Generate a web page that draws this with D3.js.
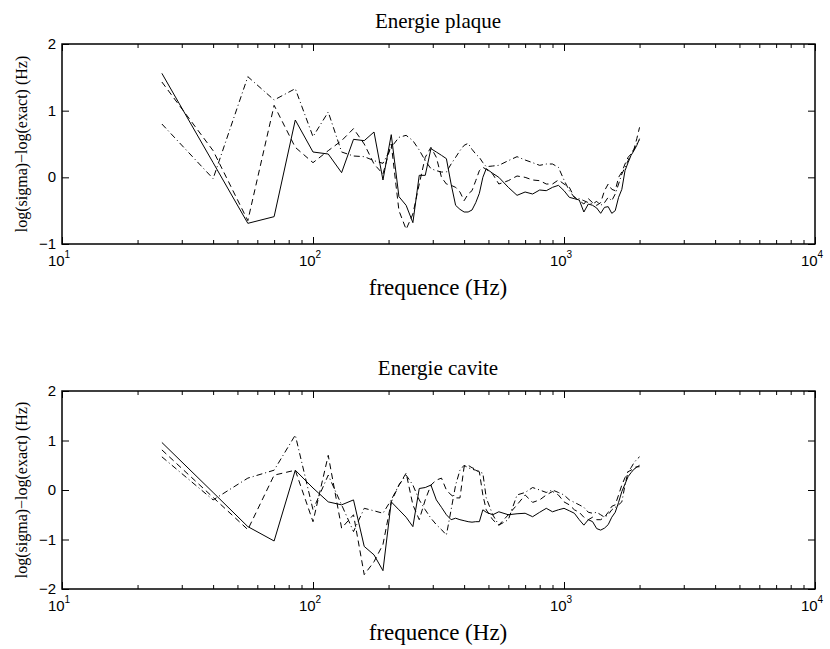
<!DOCTYPE html>
<html>
<head>
<meta charset="utf-8">
<script src="https://cdn.jsdelivr.net/npm/d3@7"></script>
<style>
  body { margin: 0; background: #fff; }
  svg text { fill: #000; }
</style>
</head>
<body>
<div class="canvas"></div>
<script>
// frequency grid (Hz)
const freqs = [25, 40, 55, 70, 85, 100, 115, 130, 145, 160, 175, 190, 205, 220, 235, 250, 265, 280, 295, 310,
  325, 340, 355, 370, 385, 400, 415, 430, 445, 460, 475, 490, 520, 550, 600, 650, 700, 750, 800, 850,
  900, 950, 1000, 1050, 1100, 1150, 1200, 1250, 1300, 1350, 1400, 1450, 1500, 1550, 1600, 1650, 1700, 1750, 1800, 1850,
  1900, 1950, 2000];

// Energie plaque
const plaqueSolid = [1.56, 0.22, -0.69, -0.59, 0.86, 0.38, 0.35, 0.07, 0.57, 0.55, 0.68, -0.04, 0.64, -0.29, -0.42, -0.68, 0.03, 0.03, 0.43, 0.38,
  0.33, 0.28, -0.1, -0.42, -0.48, -0.52, -0.52, -0.49, -0.38, -0.24, 0.0, 0.13, 0.06, 0.0, -0.15, -0.27, -0.22, -0.25, -0.19, -0.2,
  -0.15, -0.12, -0.2, -0.3, -0.32, -0.34, -0.52, -0.4, -0.42, -0.46, -0.54, -0.45, -0.44, -0.54, -0.5, -0.3, -0.18, 0.1, 0.22, 0.33,
  0.4, 0.48, 0.58];
const plaqueDash = [1.43, 0.4, -0.65, 1.08, 0.45, 0.22, 0.4, 0.55, 0.73, 0.5, 0.2, 0.05, 0.5, -0.5, -0.78, -0.55, -0.1, 0.3, 0.45, 0.3,
  0.0, -0.1, -0.12, -0.15, -0.22, -0.35, -0.25, -0.2, -0.05, 0.1, 0.15, 0.12, 0.05, -0.1, -0.05, 0.02, 0.0, -0.04, -0.05, -0.1,
  -0.1, -0.04, -0.1, -0.15, -0.3, -0.35, -0.4, -0.32, -0.38, -0.42, -0.38, -0.2, -0.1, -0.18, -0.2, 0.0, 0.08, 0.2, 0.3, 0.35,
  0.42, 0.58, 0.75];
const plaqueDashDot = [0.8, -0.02, 1.51, 1.16, 1.33, 0.61, 0.98, 0.38, 0.32, 0.31, 0.25, 0.21, 0.45, 0.6, 0.63, 0.55, 0.41, 0.25, 0.13, 0.1,
  0.08, 0.08, 0.2, 0.3, 0.4, 0.48, 0.51, 0.42, 0.35, 0.3, 0.22, 0.16, 0.17, 0.18, 0.25, 0.31, 0.26, 0.22, 0.18, 0.2,
  0.2, 0.15, -0.04, -0.2, -0.3, -0.32, -0.35, -0.38, -0.4, -0.36, -0.42, -0.38, -0.3, -0.35, -0.25, -0.1, 0.05, 0.15, 0.25, 0.35,
  0.42, 0.5, 0.56];

// Energie cavite
const caviteSolid = [0.96, -0.05, -0.74, -1.03, 0.4, 0.04, -0.24, -0.3, -0.2, -1.14, -1.31, -1.63, -0.24, -0.4, -0.55, -0.74, 0.03, 0.05, 0.1, -0.2,
  -0.35, -0.5, -0.6, -0.57, -0.6, -0.62, -0.64, -0.65, -0.64, -0.64, -0.4, -0.45, -0.5, -0.44, -0.5, -0.48, -0.47, -0.54, -0.45, -0.37,
  -0.44, -0.4, -0.37, -0.42, -0.47, -0.6, -0.71, -0.6, -0.64, -0.78, -0.81, -0.77, -0.7, -0.55, -0.45, -0.25, -0.03, 0.12, 0.27, 0.35,
  0.42, 0.46, 0.5];
const caviteDash = [0.81, -0.15, -0.8, 0.3, 0.4, -0.64, 0.7, -0.77, -0.5, -1.71, -1.45, -1.1, -0.24, 0.1, 0.34, -0.3, -0.6, -0.2, 0.1, 0.2,
  0.24, 0.0, -0.1, -0.16, -0.16, 0.47, 0.5, 0.45, 0.42, 0.37, -0.1, -0.4, -0.6, -0.71, -0.5, -0.3, -0.1, -0.25, -0.2, -0.1,
  -0.03, -0.1, -0.24, -0.3, -0.4, -0.45, -0.55, -0.6, -0.55, -0.6, -0.6, -0.55, -0.45, -0.33, -0.3, -0.1, 0.1, 0.25, 0.37, 0.4,
  0.45, 0.47, 0.47];
const caviteDashDot = [0.67, -0.2, 0.24, 0.4, 1.11, -0.4, 0.3, -0.3, -0.84, -0.37, -0.42, -0.47, -0.2, 0.1, 0.3, 0.1, -0.2, -0.4, -0.57, -0.7,
  -0.8, -0.91, -0.4, 0.1, 0.4, 0.5, 0.45, 0.42, 0.4, 0.36, 0.34, -0.16, -0.5, -0.71, -0.6, -0.1, -0.05, 0.05, 0.0, -0.05,
  0.0, -0.05, -0.1, -0.2, -0.25, -0.3, -0.35, -0.45, -0.47, -0.45, -0.5, -0.55, -0.5, -0.4, -0.35, -0.3, -0.24, 0.1, 0.37, 0.45,
  0.55, 0.62, 0.67];

const xMajor = [10, 100, 1000, 10000];
const xExp = ['1', '2', '3', '4'];

const svg = d3.select(".canvas").append("svg").attr("width", 830).attr("height", 649);

const x = d3.scaleLog().domain([10, 10000]).range([62, 815]);
let xMinor = [];
for (let d = 10; d < 10000; d *= 10) {
  for (let k = 2; k <= 9; k++) xMinor.push(d * k);
}

const styles = [
  { dash: null },
  { dash: "6,4" },
  { dash: "6,3,1,3" }
];

function drawPanel(top, bottom, yDomain, yTicks, title, series) {
  const y = d3.scaleLinear().domain(yDomain).range([bottom, top]);
  const g = svg.append("g");

  // x ticks, bottom and top, pointing inward
  g.append("g").attr("transform", `translate(0,${bottom})`)
    .call(d3.axisBottom(x).tickValues(xMajor).tickSizeInner(-7).tickSizeOuter(0).tickFormat(""));
  g.append("g").attr("transform", `translate(0,${bottom})`)
    .call(d3.axisBottom(x).tickValues(xMinor).tickSizeInner(-4).tickSizeOuter(0).tickFormat(""));
  g.append("g").attr("transform", `translate(0,${top})`)
    .call(d3.axisTop(x).tickValues(xMajor).tickSizeInner(-7).tickSizeOuter(0).tickFormat(""));
  g.append("g").attr("transform", `translate(0,${top})`)
    .call(d3.axisTop(x).tickValues(xMinor).tickSizeInner(-4).tickSizeOuter(0).tickFormat(""));

  // y ticks, left and right
  g.append("g").attr("transform", `translate(62,0)`)
    .call(d3.axisLeft(y).tickValues(yTicks).tickSizeInner(-7).tickSizeOuter(0).tickFormat(""));
  g.append("g").attr("transform", `translate(815,0)`)
    .call(d3.axisRight(y).tickValues(yTicks).tickSizeInner(-7).tickSizeOuter(0).tickFormat(""));

  g.selectAll(".domain").remove();
  g.selectAll(".tick line").attr("stroke", "#000").attr("stroke-width", 1);

  // box
  g.append("rect")
    .attr("x", 62).attr("y", top)
    .attr("width", 815 - 62).attr("height", bottom - top)
    .attr("fill", "none").attr("stroke", "#000").attr("stroke-width", 1.5);

  // y tick labels
  yTicks.forEach(t => {
    g.append("text")
      .text(t < 0 ? "\u2212" + Math.abs(t) : t)
      .attr("x", 56).attr("y", y(t) + 5)
      .attr("font-family", "Liberation Sans, Arial, sans-serif")
      .attr("font-size", 15)
      .style("text-anchor", "end");
  });

  // x tick labels 10^n
  xMajor.forEach((v, i) => {
    const t = g.append("text")
      .attr("x", x(v) - 3).attr("y", bottom + 22)
      .attr("font-family", "Liberation Sans, Arial, sans-serif")
      .attr("font-size", 15)
      .style("text-anchor", "middle");
    t.append("tspan").text("10");
    t.append("tspan").text(xExp[i]).attr("dy", -8).attr("font-size", 10);
  });

  // title
  g.append("text")
    .text(title)
    .attr("x", 438).attr("y", top - 16)
    .attr("font-family", "Liberation Serif, Times New Roman, serif")
    .attr("font-size", 21)
    .style("text-anchor", "middle");

  // x label
  g.append("text")
    .text("frequence (Hz)")
    .attr("x", 438).attr("y", bottom + 51)
    .attr("font-family", "Liberation Serif, Times New Roman, serif")
    .attr("font-size", 23)
    .style("text-anchor", "middle");

  // y label
  g.append("text")
    .text("log(sigma)\u2212log(exact) (Hz)")
    .attr("transform", `translate(27,${(top + bottom) / 2}) rotate(-90)`)
    .attr("font-family", "Liberation Serif, Times New Roman, serif")
    .attr("font-size", 16)
    .style("text-anchor", "middle");

  const line = d3.line().x((d, i) => x(freqs[i])).y(d => y(d));
  series.forEach((s, k) => {
    g.append("path")
      .attr("d", line(s))
      .attr("fill", "none")
      .attr("stroke", "#000")
      .attr("stroke-width", 1)
      .attr("stroke-dasharray", styles[k].dash);
  });
}

drawPanel(44, 244, [-1, 2], [-1, 0, 1, 2], "Energie plaque", [plaqueSolid, plaqueDash, plaqueDashDot]);
drawPanel(391, 589, [-2, 2], [-2, -1, 0, 1, 2], "Energie cavite", [caviteSolid, caviteDash, caviteDashDot]);
</script>
</body>
</html>
